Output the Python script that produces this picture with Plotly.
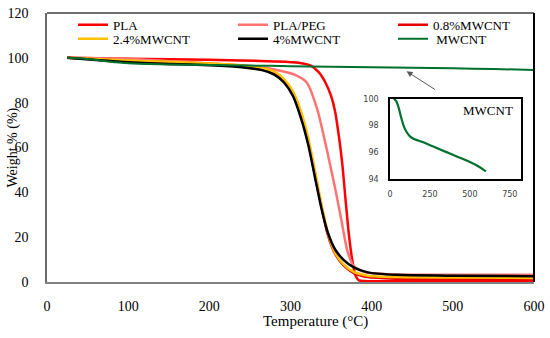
import plotly.graph_objects as go

# ---- data ----
series_names = ["PLA", "PLA/PEG", "0.8%MWCNT", "2.4%MWCNT", "4%MWCNT", "\u00a0MWCNT"]

pla_T = [25, 100, 200, 280, 310, 325, 335, 343, 350, 355, 360, 364, 368, 372, 376, 380, 384, 390, 450, 600]
pla_W = [100, 99.6, 99.2, 98.4, 97.8, 96.5, 93.5, 89, 83, 76, 64, 52, 36, 21, 10, 3, 0.8, 0.4, 0.3, 0.3]

peg_T = [25, 100, 200, 260, 290, 305, 320, 333, 346, 356, 363, 370, 378, 390, 420, 600]
peg_W = [100, 99.5, 97.5, 96, 94, 92.5, 89, 77, 57, 40, 27, 14, 7, 4.5, 3.5, 3.2]

c08_T = [25, 60, 100, 150, 200, 240, 265, 280, 292, 303, 313, 322, 330, 338, 346, 355, 365, 378, 395, 430, 500, 600]
c08_W = [100, 99.4, 98.6, 98, 97.3, 96.4, 95.2, 93.3, 90, 84, 75, 62, 48, 34, 21, 12.5, 7.5, 4, 2.2, 1.5, 1.3, 1.2]

c24_T = [25, 60, 100, 150, 200, 240, 265, 280, 292, 303, 313, 322, 330, 338, 346, 355, 365, 378, 395, 430, 500, 600]
c24_W = [100, 99.5, 98.8, 98.2, 97.5, 96.6, 95.5, 93.8, 90.5, 85, 76, 64, 50, 35, 22, 13, 8, 4.5, 2.8, 2.2, 2, 1.8]

c4_T = [25, 60, 100, 150, 200, 240, 265, 280, 292, 303, 313, 322, 330, 338, 346, 355, 365, 378, 395, 430, 500, 600]
c4_W = [100, 99, 98, 97.3, 96.7, 95.8, 94.5, 92.5, 89, 83, 73, 61, 47, 33, 22, 14.5, 10, 6.5, 4.3, 3.2, 2.8, 2.6]

cnt_T = [25, 40, 55, 70, 85, 100, 125, 150, 200, 250, 300, 350, 400, 450, 500, 550, 600]
cnt_W = [100, 99.8, 99.3, 98.6, 98.0, 97.6, 97.2, 97.0, 96.8, 96.55, 96.3, 96.05, 95.8, 95.55, 95.3, 95.0, 94.6]

x_ticks = [0, 100, 200, 300, 400, 500, 600]
y_ticks = [0, 20, 40, 60, 80, 100, 120]
inset_x_ticks = [0, 250, 500, 750]
inset_y_ticks = [94, 96, 98, 100]

colors = ["#FF0000", "#FF7373", "#E80000", "#FFC000", "#000000", "#00702E"]
xs = [pla_T, peg_T, c08_T, c24_T, c4_T, cnt_T]
ys = [pla_W, peg_W, c08_W, c24_W, c4_W, cnt_W]

SERIF = "Liberation Serif"

L, R, T, B = 47, 16, 10, 56
W, H = 550, 338
pw, ph = W - L - R, H - T - B


def px_x(p):
    return (p - L) / pw


def px_y(p):
    return (H - B - p) / ph


legend_ids = ["legend", "legend2", "legend3", "legend4", "legend5", "legend6"]
legend_pos = [(73, 22), (233, 22), (393, 22), (73, 36), (233, 36), (393, 36)]

fig = go.Figure()
for i, (n, x, y, c) in enumerate(zip(series_names, xs, ys, colors)):
    fig.add_trace(go.Scatter(
        x=x, y=y, name=n, mode="lines",
        line=dict(color=c, width=2.5 if i < 5 else 2, shape="spline", smoothing=0.6),
        legend=legend_ids[i],
        xaxis="x", yaxis="y",
    ))

# inset
fig.add_trace(go.Scatter(
    x=cnt_T, y=cnt_W, mode="lines", showlegend=False,
    line=dict(color=colors[5], width=2.2, shape="spline", smoothing=0.6),
    xaxis="x2", yaxis="y2",
))

legend_common = dict(
    orientation="h", bgcolor="rgba(0,0,0,0)",
    font=dict(family=SERIF, size=13, color="#000"),
    xanchor="left", yanchor="middle", itemclick=False,
)
legends = {}
for lid, (lx, ly) in zip(legend_ids, legend_pos):
    legends[lid] = dict(x=px_x(lx), y=px_y(ly), **legend_common)

fig.update_layout(
    width=W, height=H,
    margin=dict(l=L, r=R, t=T, b=B),
    paper_bgcolor="white", plot_bgcolor="white",
    **legends,
    xaxis=dict(
        range=[0, 600], tickvals=x_ticks, showgrid=False, zeroline=False,
        showline=True, linecolor="#808080", linewidth=1.5,
        tickfont=dict(family=SERIF, size=14, color="#000"),
        ticks="", ticklabelstandoff=10, automargin=False,
    ),
    yaxis=dict(
        range=[0, 120], tickvals=y_ticks, showgrid=False, zeroline=False,
        showline=True, linecolor="#6b6b6b", linewidth=1.5,
        tickfont=dict(family=SERIF, size=14, color="#000"),
        ticks="", ticklabelstandoff=14, automargin=False,
    ),
    xaxis2=dict(
        domain=[px_x(390), px_x(521)], anchor="y2",
        range=[0, 820], tickvals=inset_x_ticks, showgrid=False, zeroline=False,
        showline=True, mirror=True, linecolor="#000", linewidth=1.5,
        tickfont=dict(family="DejaVu Sans", size=8, color="#404040"),
        ticks="", ticklabelstandoff=6,
    ),
    yaxis2=dict(
        domain=[px_y(178.3), px_y(96.7)], anchor="x2",
        range=[94, 100], tickvals=inset_y_ticks, showgrid=False, zeroline=False,
        showline=True, mirror=True, linecolor="#000", linewidth=1.5,
        tickfont=dict(family="DejaVu Sans", size=8, color="#404040"),
        ticks="", ticklabelstandoff=8,
    ),
    shapes=[
        dict(type="line", xref="paper", yref="paper", x0=0, x1=1, y0=1, y1=1,
             line=dict(color="#404040", width=1.5)),
        dict(type="line", xref="paper", yref="paper", x0=1, x1=1, y0=0, y1=1,
             line=dict(color="#000000", width=2)),
    ],
    annotations=[
        dict(text="Temperature (°C)", xref="paper", yref="paper",
             x=px_x(315), y=px_y(322), showarrow=False,
             font=dict(family=SERIF, size=15, color="#000"), xanchor="center", yanchor="middle"),
        dict(text="Weight % (%)", xref="paper", yref="paper",
             x=px_x(12), y=px_y(146), showarrow=False, textangle=-90,
             font=dict(family=SERIF, size=14, color="#000"), xanchor="center", yanchor="middle"),
        dict(text="MWCNT", xref="paper", yref="paper",
             x=px_x(488), y=px_y(109), showarrow=False,
             font=dict(family=SERIF, size=13, color="#000"), xanchor="center", yanchor="middle"),
        dict(text="", xref="x", yref="y", x=443, y=94, ax=480, ay=85.4,
             axref="x", ayref="y", showarrow=True, arrowhead=2, arrowsize=1.2,
             arrowwidth=1, arrowcolor="#595959"),
    ],
)

fig.write_html(
    "out.html",
    config={"displayModeBar": False},
    post_script="document.body.style.margin='0px';document.body.style.overflow='hidden';",
)
